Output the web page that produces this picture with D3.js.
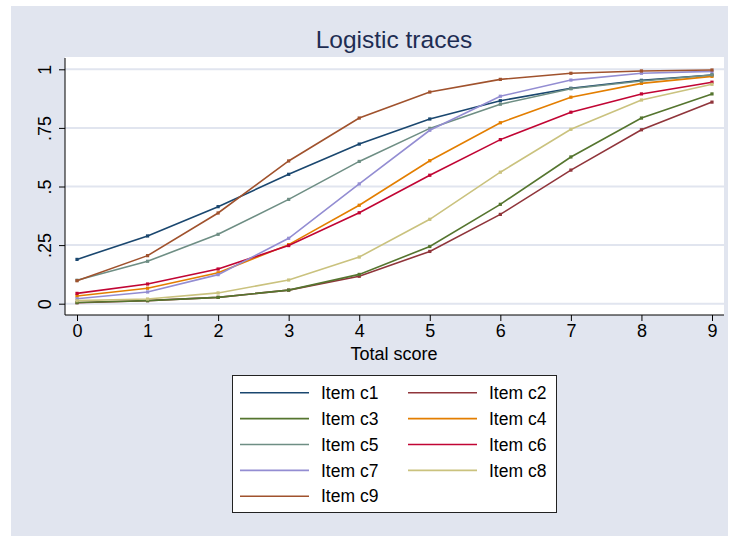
<!DOCTYPE html>
<html><head><meta charset="utf-8">
<script src="https://cdn.jsdelivr.net/npm/d3@7"></script>
<style>html,body{margin:0;padding:0;background:#fff;}svg{display:block;font-family:"Liberation Sans",Arial,Helvetica,sans-serif;}</style>
</head><body>
<script>
const scores = [0,1,2,3,4,5,6,7,8,9];
const items = ["Item c1","Item c2","Item c3","Item c4","Item c5","Item c6","Item c7","Item c8","Item c9"];
const c1 = [0.189,0.289,0.414,0.552,0.681,0.788,0.866,0.919,0.953,0.976];
const c2 = [0.004,0.013,0.027,0.058,0.117,0.223,0.381,0.570,0.742,0.860];
const c3 = [0.005,0.013,0.027,0.058,0.125,0.244,0.424,0.626,0.792,0.895];
const c4 = [0.033,0.066,0.132,0.252,0.420,0.610,0.772,0.881,0.940,0.970];
const c5 = [0.100,0.181,0.296,0.445,0.607,0.748,0.851,0.917,0.950,0.976];
const c6 = [0.044,0.084,0.148,0.248,0.388,0.548,0.700,0.817,0.895,0.945];
const c7 = [0.021,0.050,0.124,0.279,0.511,0.740,0.885,0.954,0.983,0.991];
const c8 = [0.013,0.020,0.046,0.101,0.199,0.360,0.561,0.744,0.869,0.936];
const c9 = [0.098,0.205,0.387,0.609,0.792,0.903,0.957,0.983,0.993,0.997];
const seriesValues = [c1,c2,c3,c4,c5,c6,c7,c8,c9];
const colors = ["#1a476f","#90353b","#55752f","#e37e00","#6e8e84","#c10534","#938dd2","#cac27e","#a0522d"];
const yTicks = [0,0.25,0.5,0.75,1];
const yTickLabels = ["0",".25",".5",".75","1"];

const W=730,H=536;
const svg=d3.select("body").append("svg").attr("width",W).attr("height",H);
svg.append("rect").attr("x",11).attr("y",6).attr("width",717).attr("height",530).attr("fill","#e1e5ef");
const pl=65,pr=724,pt=57,pb=315;
svg.append("rect").attr("x",pl).attr("y",pt).attr("width",pr-pl).attr("height",pb-pt).attr("fill","#fff");

const x=d3.scaleLinear().domain([0,9]).range([77,712]);
const y=d3.scaleLinear().domain([0,1]).range([303.7,69.3]);

// grid
svg.append("g").selectAll("line").data(yTicks).join("line")
  .attr("x1",pl).attr("x2",pr).attr("y1",d=>y(d)).attr("y2",d=>y(d))
  .attr("stroke","#e1e5ef").attr("stroke-width",2);

// lines
const line=d3.line().x((d,i)=>x(scores[i])).y(d=>y(d));
seriesValues.forEach((vals,k)=>{
  svg.append("path").attr("d",line(vals)).attr("fill","none").attr("stroke",colors[k]).attr("stroke-width",1.6);
  svg.append("g").selectAll("rect").data(vals).join("rect")
    .attr("x",(d,i)=>x(scores[i])-1.6).attr("y",d=>y(d)-1.6).attr("width",3.2).attr("height",3.2).attr("fill",colors[k]);
});

// axes
const yAxis=d3.axisLeft(y).tickValues(yTicks).tickFormat((d,i)=>yTickLabels[i]).tickSize(6).tickSizeOuter(0);
const gy=svg.append("g").attr("transform",`translate(${pl},0)`).call(yAxis);
gy.select(".domain").attr("d",`M0,${pt+1}V${pb}`).attr("stroke","#000");
gy.selectAll(".tick line").attr("stroke","#000");
gy.selectAll(".tick text").attr("font-size",18).attr("fill","#000").attr("font-family","Liberation Sans, Arial, sans-serif")
  .attr("text-anchor","middle").attr("transform","translate(-20,0) rotate(-90)").attr("x",0).attr("y",0).attr("dy","0.35em");

const xAxis=d3.axisBottom(x).tickValues(scores).tickFormat(d3.format("d")).tickSize(6).tickSizeOuter(0);
const gx=svg.append("g").attr("transform",`translate(0,${pb})`).call(xAxis);
gx.select(".domain").attr("d",`M${pl},0H${pr}`).attr("stroke","#000");
gx.selectAll(".tick line").attr("stroke","#000");
gx.selectAll(".tick text").attr("font-size",18).attr("fill","#000").attr("font-family","Liberation Sans, Arial, sans-serif").attr("y",9).attr("dy","0.71em");

svg.append("text").attr("x",394).attr("y",360).attr("text-anchor","middle").attr("font-size",18).attr("fill","#000").text("Total score");
svg.append("text").attr("x",394).attr("y",48).attr("text-anchor","middle").attr("font-size",24.5).attr("fill","#1e2d53").text("Logistic traces");

// legend
svg.append("rect").attr("x",232.5).attr("y",375.5).attr("width",324).attr("height",137).attr("fill","#fff").attr("stroke","#222").attr("stroke-width",1);
items.forEach((name,k)=>{
  const col=k%2, row=Math.floor(k/2);
  const ly=392.7+row*25.9;
  const lx=col===0?240:408;
  svg.append("line").attr("x1",lx).attr("x2",lx+69).attr("y1",ly).attr("y2",ly).attr("stroke",colors[k]).attr("stroke-width",1.6);
  svg.append("text").attr("x",lx+81).attr("y",ly).attr("dy","0.35em").attr("font-size",17.5).attr("fill","#000").text(name);
});
</script>
</body></html>
